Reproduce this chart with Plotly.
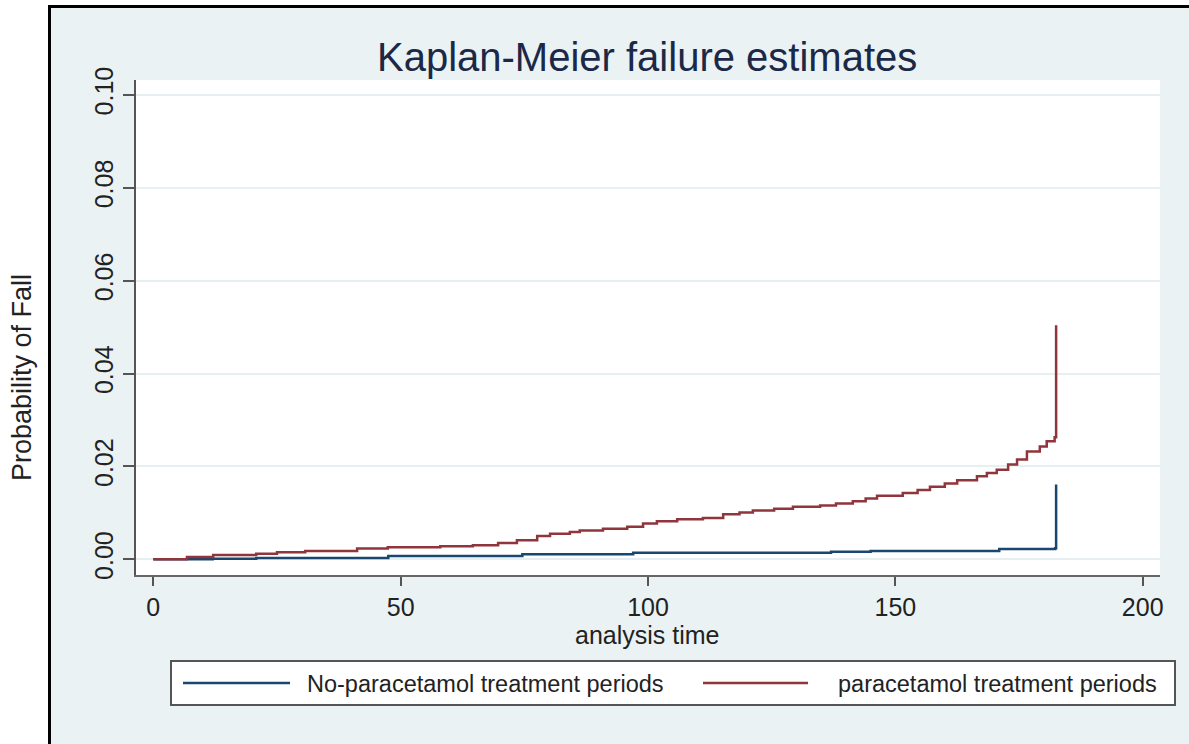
import plotly.graph_objects as go

# ---------------- data ----------------
red_time = [0, 6.8, 12.1, 20.8, 25.0, 30.7, 41.2, 47.4, 58.0, 64.6, 69.7, 73.5,
            77.6, 80.2, 84.2, 86.2, 90.9, 95.8, 99.0, 101.8, 105.9, 111.1, 115.2,
            118.5, 121.2, 125.5, 129.3, 134.8, 138.0, 141.4, 144.0, 146.3, 151.5,
            154.5, 157.0, 160.0, 162.5, 166.5, 168.5, 170.5, 172.8, 174.6, 176.6,
            179.2, 180.6, 182.2, 182.5]
red_fail = [0, 0.0005, 0.0009, 0.0012, 0.0015, 0.0018, 0.0023, 0.0026, 0.0028,
            0.0030, 0.0035, 0.0041, 0.0050, 0.0055, 0.0059, 0.0062, 0.0066,
            0.0070, 0.0077, 0.0082, 0.0086, 0.0089, 0.0097, 0.0101, 0.0105,
            0.0109, 0.0113, 0.0116, 0.0120, 0.0125, 0.0131, 0.0137, 0.0143,
            0.0149, 0.0156, 0.0163, 0.0170, 0.0179, 0.0186, 0.0193, 0.0204,
            0.0215, 0.0232, 0.0243, 0.0254, 0.0263, 0.0504]

blue_time = [0, 12.0, 20.8, 47.5, 74.6, 97.0, 137.0, 145.0, 171.0, 182.3, 182.5]
blue_fail = [0, 0.0001, 0.0003, 0.0007, 0.0011, 0.0014, 0.0016, 0.0018, 0.0022,
             0.0024, 0.0161]

series_names = ["No-paracetamol treatment periods", "paracetamol treatment periods"]
x_ticks = [0, 50, 100, 150, 200]
y_ticks = [0, 0.02, 0.04, 0.06, 0.08, 0.10]
y_tick_text = ["0.00", "0.02", "0.04", "0.06", "0.08", "0.10"]

title_text = "Kaplan-Meier failure estimates"
x_title = "analysis time"
y_title = "Probability of Fall"

# ---------------- styling ----------------
BLUE = "#1a476f"
RED = "#90353b"
BG = "#EAF2F3"
FONT = "Liberation Sans, Arial, sans-serif"

W, H = 1189, 744
ML, MR, MT, MB = 136, 29, 80, 169
PW, PH = W - ML - MR, H - MT - MB


def px(x):
    return (x - ML) / PW


def py(y):
    return (H - MB - y) / PH


fig = go.Figure()
fig.add_trace(go.Scatter(x=blue_time, y=blue_fail, mode="lines", line_shape="hv",
                         line=dict(color=BLUE, width=2.5), name=series_names[0],
                         showlegend=False))
fig.add_trace(go.Scatter(x=red_time, y=red_fail, mode="lines", line_shape="hv",
                         line=dict(color=RED, width=2.5), name=series_names[1],
                         showlegend=False))

shapes = [
    # white strips outside the black frame (left and top)
    dict(type="rect", xref="paper", yref="paper", x0=px(-5), x1=px(48.5),
         y0=py(H + 5), y1=py(-5), fillcolor="white", line=dict(width=0), layer="below"),
    dict(type="rect", xref="paper", yref="paper", x0=px(-5), x1=px(W + 5),
         y0=py(5.5), y1=py(-5), fillcolor="white", line=dict(width=0), layer="below"),
    dict(type="line", xref="paper", yref="paper", x0=px(49.5), x1=px(49.5),
         y0=py(H + 5), y1=py(5), line=dict(color="black", width=3), layer="below"),
    dict(type="line", xref="paper", yref="paper", x0=px(48), x1=px(W + 5),
         y0=py(6.5), y1=py(6.5), line=dict(color="black", width=3), layer="below"),
    # legend box
    dict(type="rect", xref="paper", yref="paper", x0=px(171), x1=px(1175),
         y0=py(705), y1=py(661), fillcolor="white",
         line=dict(color="#555555", width=2), layer="below"),
    dict(type="line", xref="paper", yref="paper", x0=px(183), x1=px(290),
         y0=py(683), y1=py(683), line=dict(color=BLUE, width=2.5)),
    dict(type="line", xref="paper", yref="paper", x0=px(703), x1=px(808),
         y0=py(683), y1=py(683), line=dict(color=RED, width=2.5)),
]

annotations = [
    dict(text=title_text, xref="paper", yref="paper", x=px(647), y=py(57),
         xanchor="center", yanchor="middle", showarrow=False,
         font=dict(size=40, color="#1c2847", family=FONT)),
    dict(text=x_title, xref="paper", yref="paper", x=px(647), y=py(635),
         xanchor="center", yanchor="middle", showarrow=False,
         font=dict(size=25, color="#222222", family=FONT)),
    dict(text=y_title, xref="paper", yref="paper", x=px(22), y=py(378),
         xanchor="center", yanchor="middle", showarrow=False, textangle=-90,
         font=dict(size=27, color="#222222", family=FONT)),
    dict(text=series_names[0], xref="paper", yref="paper", x=px(305), y=py(684),
         xanchor="left", yanchor="middle", showarrow=False,
         font=dict(size=23.5, color="#222222", family=FONT)),
    dict(text=series_names[1], xref="paper", yref="paper", x=px(836), y=py(684),
         xanchor="left", yanchor="middle", showarrow=False,
         font=dict(size=23.5, color="#222222", family=FONT)),
]

fig.update_layout(
    width=W, height=H, autosize=False,
    margin=dict(l=ML, r=MR, t=MT, b=MB, pad=0),
    paper_bgcolor=BG, plot_bgcolor="white",
    font=dict(family=FONT, color="#222222"),
    shapes=shapes, annotations=annotations, showlegend=False,
)
fig.update_xaxes(range=[-3.5, 203.5], tickvals=x_ticks, ticks="outside", ticklen=9,
                 tickwidth=2, tickcolor="#555555", showline=True, linecolor="#666666",
                 linewidth=2, showgrid=False, zeroline=False,
                 tickfont=dict(size=25, color="#222222", family=FONT))
fig.update_yaxes(range=[-0.00338, 0.1032], tickvals=y_ticks, ticktext=y_tick_text,
                 tickangle=-90, ticks="outside", ticklen=11, tickwidth=2,
                 tickcolor="#555555", showline=True, linecolor="#555555", linewidth=2,
                 showgrid=True, gridcolor="#e6eff1", gridwidth=1.5, zeroline=False,
                 tickfont=dict(size=25, color="#222222", family=FONT))

fig.write_html("out.html", config={"displayModeBar": False},
               post_script="document.body.style.margin='0';"
                           "document.body.style.overflow='hidden';")
